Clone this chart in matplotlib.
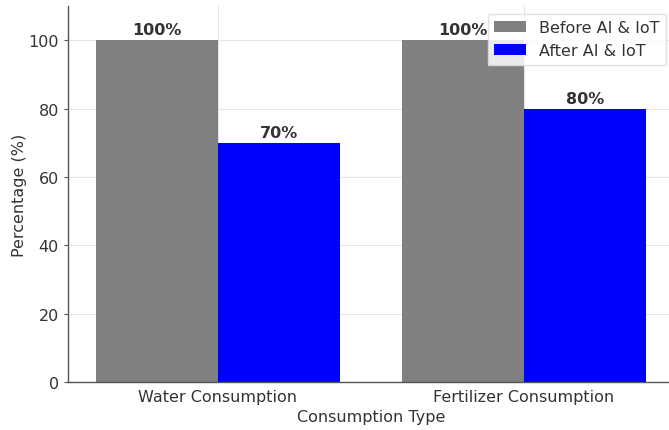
import matplotlib
matplotlib.use("Agg")
import matplotlib.pyplot as plt
import numpy as np

categories = ["Water Consumption", "Fertilizer Consumption"]
before_values = [100, 100]
after_values = [70, 80]
series_labels = ["Before AI & IoT", "After AI & IoT"]

fig = plt.figure(figsize=(6.69, 4.31), dpi=100)
ax = fig.add_axes([68 / 669, 48 / 431, 606 / 669, 376 / 431])

x = np.arange(len(categories))
width = 0.4
bars_before = ax.bar(x - width / 2, before_values, width, color="#808080",
                     label=series_labels[0], zorder=2)
bars_after = ax.bar(x + width / 2, after_values, width, color="#0000ff",
                    label=series_labels[1], zorder=2)

for bars in (bars_before, bars_after):
    for b in bars:
        h = b.get_height()
        ax.text(b.get_x() + b.get_width() / 2, h + 0.8, f"{h:.0f}%",
                ha="center", va="bottom", fontsize=11.5, fontweight="bold",
                color="#333333", zorder=3)

ax.set_xticks(x)
ax.set_xticklabels(categories, fontsize=11.5, color="#333333")
ax.set_ylim(0, 110)
ax.set_xlim(-0.49, 1.49)
ax.set_yticks([0, 20, 40, 60, 80, 100])
ax.tick_params(axis="y", labelsize=11.5, labelcolor="#333333", length=3,
               color="#555555")
ax.tick_params(axis="x", length=0, pad=5)
ax.set_xlabel("Consumption Type", fontsize=11.5, color="#333333", labelpad=4)
ax.set_ylabel("Percentage (%)", fontsize=11.5, color="#333333", labelpad=1)

ax.grid(True, color="#e6e6e6", linestyle="-", linewidth=0.8, zorder=0)
for side in ("top", "right"):
    ax.spines[side].set_visible(False)
for side in ("left", "bottom"):
    ax.spines[side].set_color("#555555")
    ax.spines[side].set_linewidth(1.0)

leg = ax.legend(loc="upper right", fontsize=11.5, frameon=True, fancybox=False,
                edgecolor="#dddddd", framealpha=0.85,
                labelcolor="#333333", borderaxespad=0.5)

fig.savefig("out.png", dpi=100)
